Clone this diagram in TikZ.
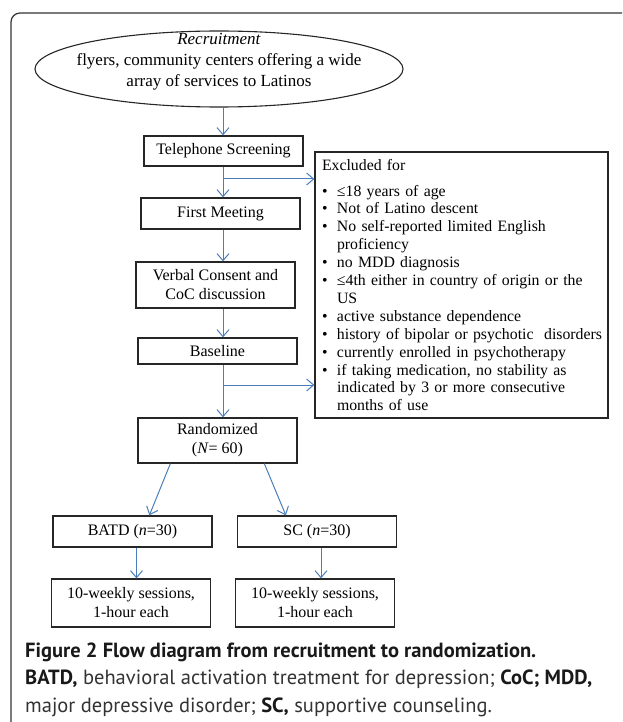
\documentclass[tikz,border=0pt]{standalone}
\usepackage{fontspec}
\setmainfont{Liberation Serif}
\newfontfamily\capfont{PT Sans}
\usetikzlibrary{shapes.geometric}
\usetikzlibrary{arrows.meta}
\definecolor{flowblue}{RGB}{74,126,187}
\tikzset{stagebox/.style={draw=black!85, line width=1.3pt, minimum width=159pt, align=center, inner sep=2pt, font=\fontsize{16}{19}\selectfont}}
\tikzset{recell/.style={draw=black!85, line width=1.1pt, ellipse, minimum width=368pt, minimum height=76pt, inner sep=0pt}}
\tikzset{exclbox/.style={draw=black!85, line width=1.3pt, minimum width=293pt, minimum height=266pt, text width=279pt, inner sep=7pt, align=left, font=\fontsize{15.8}{17.9}\selectfont}}
\tikzset{flow/.style={draw=flowblue, line width=1pt, -{Straight Barb[length=7pt,width=12pt]}}}
\newcommand{\exbul}{\makebox[15pt][l]{\textbullet}}
\newcommand{\exind}{\hspace*{15pt}}

\begin{document}
\begin{tikzpicture}[x=1pt,y=-1pt]
\useasboundingbox (0,0) rectangle (622,722);
\draw[black!80, line width=1.2pt, rounded corners=9pt] (622,13) -- (11,13) -- (11,722);

\node[recell] (rec) at (219,69) {};
\node[align=center, font=\fontsize{17}{21}\selectfont] (rectext) at (219,62) {\textit{Recruitment}\\flyers, community centers offering a wide\\array of services to Latinos};

\node[stagebox, minimum height=30pt] (tel) at (223.5,151) {Telephone Screening};
\node[stagebox, minimum height=31pt] (meet) at (220.5,213.5) {First Meeting};
\node[stagebox, minimum height=46pt] (verbal) at (215.5,285) {Verbal Consent and\\CoC discussion};
\node[stagebox, minimum height=26pt] (base) at (217.5,351) {Baseline};
\node[stagebox, minimum height=45pt] (rand) at (217.5,440.5) {Randomized\\(\textit{N}= 60)};

\node[exclbox] (excl) at (461.5,285) {Excluded for\\[8pt]
\exbul ≤18 years of age\\
\exbul Not of Latino descent\\
\exbul No self-reported limited English\\
\exind proficiency\\
\exbul no MDD diagnosis\\
\exbul ≤4th either in country of origin or the\\
\exind US\\
\exbul active substance dependence\\
\exbul \mbox{history of bipolar or psychotic\ \ disorders}\\
\exbul currently enrolled in psychotherapy\\
\exbul if taking medication, no stability as\\
\exind indicated by 3 or more consecutive\\
\exind months of use};

\node[stagebox, minimum height=31pt] (batd) at (132.5,531.5) {BATD (\textit{n}=30)};
\node[stagebox, minimum height=31pt] (sc) at (317,531.5) {SC (\textit{n}=30)};
\node[stagebox, minimum height=48pt] (sessa) at (131,603) {10-weekly sessions,\\1-hour each};
\node[stagebox, minimum height=48pt] (sessb) at (315,603) {10-weekly sessions,\\1-hour each};

\coordinate (spine) at (223,0);
\coordinate (br1) at (223,179);
\coordinate (br2) at (223,385);

\draw[flow] (rec.south -| spine) -- (spine |- tel.north);
\draw[flow] (spine |- tel.south) -- (spine |- meet.north);
\draw[flow] (spine |- meet.south) -- (spine |- verbal.north);
\draw[flow] (spine |- verbal.south) -- (spine |- base.north);
\draw[flow] (spine |- base.south) -- (spine |- rand.north);
\draw[flow] (br1) -- (br1 -| excl.west);
\draw[flow] (br2) -- (br2 -| excl.west);

\draw[flow] ([xshift=33pt]rand.south west) -- ([xshift=97pt]batd.north west);
\draw[flow] ([xshift=127pt]rand.south west) -- ([xshift=49pt]sc.north west);
\draw[flow] ([xshift=4pt]batd.south) -- ([xshift=4pt]batd.south |- sessa.north);
\draw[flow] ([xshift=4pt]sc.south) -- ([xshift=4pt]sc.south |- sessb.north);

\node[anchor=west, align=left, inner sep=0pt, text=black!80, font=\capfont\fontsize{20.5}{27.5}\selectfont] (cap) at (25,679.5) {\textbf{\color{black!90}Figure 2 Flow diagram from recruitment to randomization.}\\\textbf{\color{black!90}BATD,} behavioral activation treatment for depression; \textbf{\color{black!90}CoC; MDD,}\\major depressive disorder; \textbf{\color{black!90}SC,} supportive counseling.};
\end{tikzpicture}
\end{document}
